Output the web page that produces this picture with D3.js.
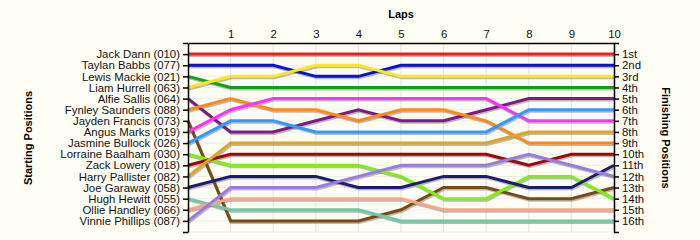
<!DOCTYPE html>
<html>
<head>
<meta charset="utf-8">
<script src="https://cdn.jsdelivr.net/npm/d3@7"></script>
<style>
  body { margin: 0; background: #fefef4; }
  svg { display: block; font-family: "Liberation Sans", Arial, sans-serif; }
</style>
</head>
<body>
<script>
// laps shown along the top axis (lap 0 = grid)
const laps = [0, 1, 2, 3, 4, 5, 6, 7, 8, 9, 10];

const drivers = [
  "Jack Dann (010)", "Taylan Babbs (077)", "Lewis Mackie (021)", "Liam Hurrell (063)",
  "Alfie Sallis (064)", "Fynley Saunders (088)", "Jayden Francis (073)", "Angus Marks (019)",
  "Jasmine Bullock (026)", "Lorraine Baalham (030)", "Zack Lowery (018)", "Harry Pallister (082)",
  "Joe Garaway (058)", "Hugh Hewitt (055)", "Ollie Handley (066)", "Vinnie Phillips (087)"
];

const finishLabels = [
  "1st", "2nd", "3rd", "4th", "5th", "6th", "7th", "8th",
  "9th", "10th", "11th", "12th", "13th", "14th", "15th", "16th"
];

// position of each driver after each lap (lap 0 .. lap 10)
const positions = [
  [1, 1, 1, 1, 1, 1, 1, 1, 1, 1, 1],
  [2, 2, 2, 3, 3, 2, 2, 2, 2, 2, 2],
  [3, 4, 4, 4, 4, 4, 4, 4, 4, 4, 4],
  [4, 3, 3, 2, 2, 3, 3, 3, 3, 3, 3],
  [5, 8, 8, 7, 6, 7, 7, 6, 5, 5, 5],
  [6, 5, 6, 6, 7, 6, 6, 7, 9, 9, 9],
  [7, 16, 16, 16, 16, 15, 13, 13, 14, 14, 13],
  [8, 6, 5, 5, 5, 5, 5, 5, 7, 7, 7],
  [9, 7, 7, 8, 8, 8, 8, 8, 6, 6, 6],
  [10, 11, 11, 11, 11, 12, 14, 14, 12, 12, 14],
  [11, 10, 10, 10, 10, 10, 10, 10, 11, 10, 10],
  [12, 9, 9, 9, 9, 9, 9, 9, 8, 8, 8],
  [13, 12, 12, 12, 13, 13, 12, 12, 13, 13, 11],
  [14, 15, 15, 15, 15, 16, 16, 16, 16, 16, 16],
  [15, 14, 14, 14, 14, 14, 15, 15, 15, 15, 15],
  [16, 13, 13, 13, 12, 11, 11, 11, 10, 11, 12]
];

const colors = [
  "#ee1c1c", "#0a10d8", "#14a014", "#ffe81a", "#7d1a85", "#ff8a1c", "#7a4a14", "#ff33ff",
  "#3399ff", "#80ee10", "#990a0a", "#dba62a", "#1c1c6c", "#6ccaa6", "#ffa585", "#9a7ce0"
];

const width = 700, height = 240;
const svg = d3.select("body").append("svg").attr("width", width).attr("height", height);

const x = d3.scaleLinear().domain([0, 10]).range([188, 614]);
const y = d3.scaleLinear().domain([0, 17]).range([43, 232]);

// grid
const grid = svg.append("g");
grid.selectAll("line.v")
  .data(laps.slice(1))
  .enter().append("line")
  .attr("x1", d => x(d)).attr("x2", d => x(d))
  .attr("y1", y(0)).attr("y2", y(17))
  .attr("stroke", "#e2e2e2");
grid.selectAll("line.h")
  .data(d3.range(1, 18))
  .enter().append("line")
  .attr("x1", x(0)).attr("x2", x(10))
  .attr("y1", d => y(d)).attr("y2", d => y(d))
  .attr("stroke", "#ececec");

// lines
const line = d3.line()
  .x((d, i) => x(laps[i]))
  .y(d => y(d));

const series = svg.append("g");
series.selectAll("path.shadow")
  .data(positions)
  .enter().append("path")
  .attr("d", line)
  .attr("transform", "translate(1,1.5)")
  .attr("fill", "none")
  .attr("stroke", "#777")
  .attr("stroke-opacity", 0.5)
  .attr("stroke-width", 3);
series.selectAll("path.main")
  .data(positions)
  .enter().append("path")
  .attr("d", line)
  .attr("fill", "none")
  .attr("stroke", (d, i) => colors[i])
  .attr("stroke-width", 3);

// axes
const tickVals = d3.range(0, 18);
const leftAxis = svg.append("g")
  .attr("transform", "translate(" + x(0) + ",0)")
  .call(d3.axisLeft(y).tickValues(tickVals).tickSize(5).tickSizeOuter(0)
    .tickFormat(d => (d >= 1 && d <= 16 ? drivers[d - 1] : "")));
const rightAxis = svg.append("g")
  .attr("transform", "translate(" + x(10) + ",0)")
  .call(d3.axisRight(y).tickValues(tickVals).tickSize(5).tickSizeOuter(0)
    .tickFormat(d => (d >= 1 && d <= 16 ? finishLabels[d - 1] : "")));
const topAxis = svg.append("g")
  .attr("transform", "translate(0," + y(0) + ")")
  .call(d3.axisTop(x).tickValues(laps.slice(1)).tickSize(0).tickPadding(5).tickSizeOuter(0));

svg.selectAll(".tick text")
  .style("font-size", "11.4px")
  .style("font-family", "'Liberation Sans', Arial, sans-serif")
  .attr("fill", "#111");
svg.selectAll(".domain").attr("stroke", "#000").attr("stroke-width", 1.5);
svg.selectAll(".tick line").attr("stroke", "#000").attr("stroke-width", 1.5);
leftAxis.selectAll(".tick text").attr("x", -8);
rightAxis.selectAll(".tick text").attr("x", 8);

// titles
svg.append("text")
  .attr("x", 401).attr("y", 18)
  .attr("text-anchor", "middle")
  .style("font-size", "11px").style("font-weight", "bold")
  .text("Laps");
svg.append("text")
  .attr("transform", "translate(32,138) rotate(-90)")
  .attr("text-anchor", "middle")
  .style("font-size", "11px").style("font-weight", "bold")
  .text("Starting Positions");
svg.append("text")
  .attr("transform", "translate(662,138) rotate(90)")
  .attr("text-anchor", "middle")
  .style("font-size", "11px").style("font-weight", "bold")
  .text("Finishing Positions");
</script>
</body>
</html>
